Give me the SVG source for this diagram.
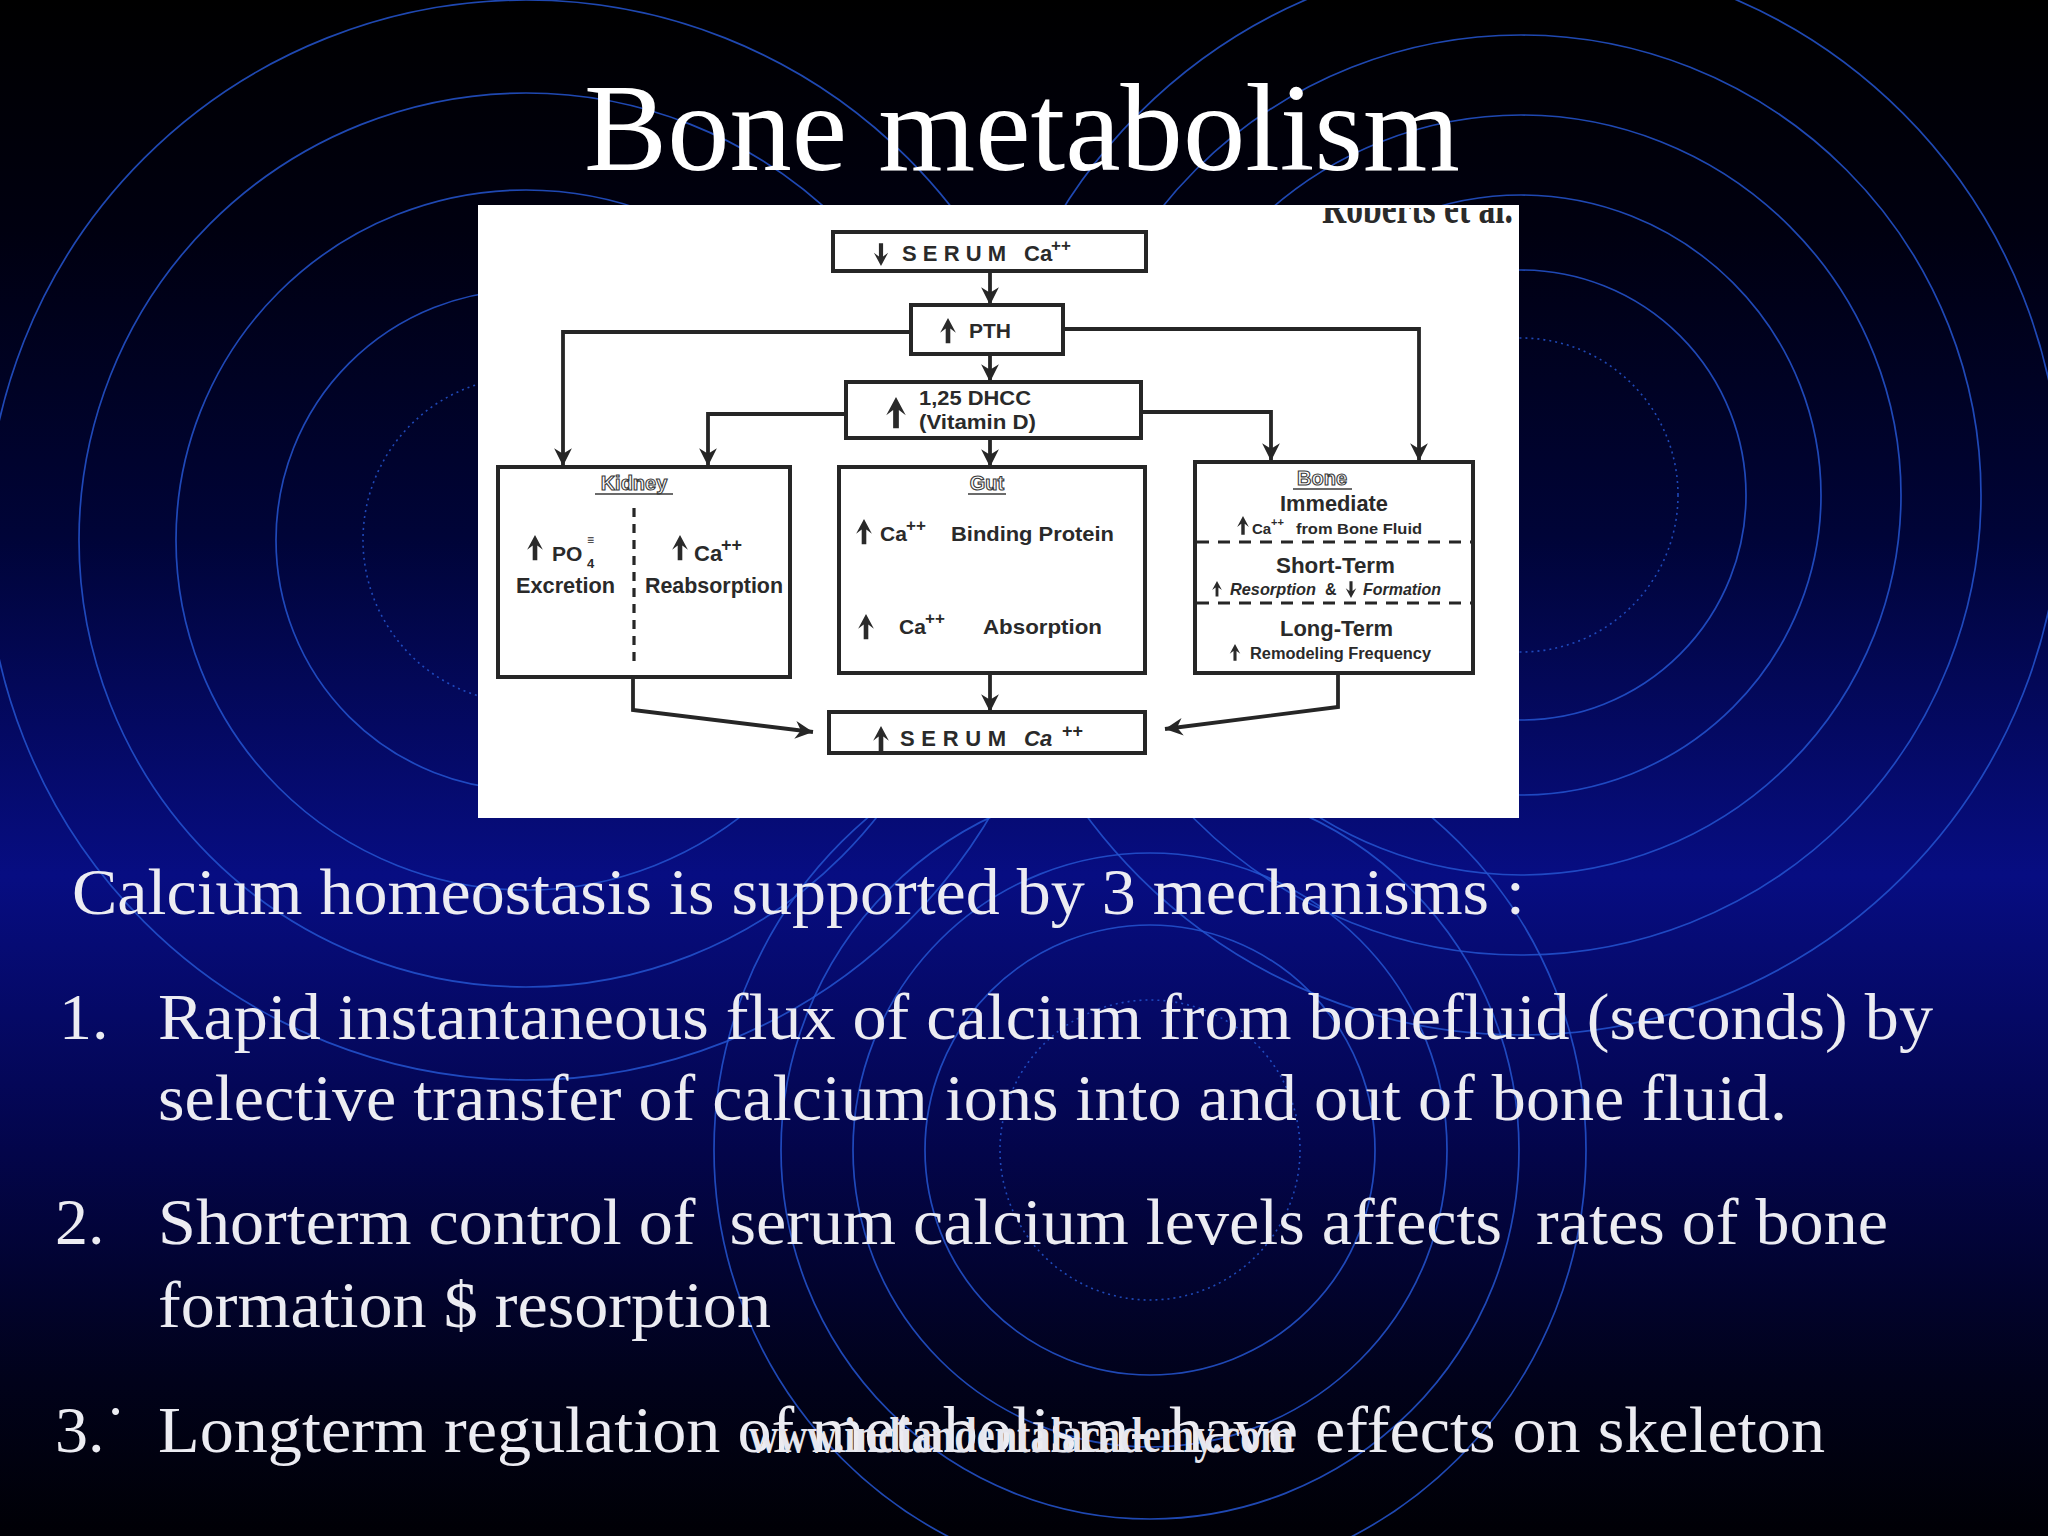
<svg xmlns="http://www.w3.org/2000/svg" width="2048" height="1536" viewBox="0 0 2048 1536">
<defs>
<linearGradient id="bg" x1="0" y1="0" x2="0" y2="1">
<stop offset="0" stop-color="#000000"/>
<stop offset="0.15" stop-color="#000010"/>
<stop offset="0.35" stop-color="#000438"/>
<stop offset="0.57" stop-color="#070d82"/>
<stop offset="0.75" stop-color="#03054a"/>
<stop offset="0.9" stop-color="#01021a"/>
<stop offset="1" stop-color="#000005"/>
</linearGradient>
<marker id="ah" markerUnits="userSpaceOnUse" markerWidth="20" markerHeight="20" viewBox="0 0 18 18" refX="17" refY="9" orient="auto">
<path d="M1,1 L17,9 L1,17 L6,9 Z" fill="#262626"/>
</marker>
<path id="up" d="M0,0 L-7.5,14 L-2.2,10 L-2.2,24 L2.2,24 L2.2,10 L7.5,14 Z"/>
<clipPath id="clipBox"><rect x="478" y="208" width="1041" height="610"/></clipPath>
<style>
.ring{fill:none;stroke:#2555d0;stroke-width:1.7;opacity:.85}
.dot{fill:none;stroke:#2555d0;stroke-width:1.6;stroke-dasharray:2 4;opacity:.85}
.box{fill:#fff;stroke:#262626;stroke-width:4}
.conn{fill:none;stroke:#262626;stroke-width:3.8;marker-end:url(#ah)}
.dash{fill:none;stroke:#262626;stroke-width:3.2;stroke-dasharray:12 9}
.t{font-family:"Liberation Sans",Arial,sans-serif;font-weight:bold;fill:#2a2a2a}
.lab{font-family:"Liberation Sans",Arial,sans-serif;font-weight:bold;fill:#fff;stroke:#3a3a3a;stroke-width:1.1;font-size:20px}
.ul{stroke:#3a3a3a;stroke-width:1.6}
.sym{fill:#2a2a2a}
.body{font-family:"Liberation Serif","Times New Roman",serif;fill:#ececf2;font-size:66px;white-space:pre}
.title{font-family:"Liberation Serif","Times New Roman",serif;fill:#ffffff;font-size:124px}
</style>
</defs>

<rect x="0" y="0" width="2048" height="1536" fill="url(#bg)"/>

<g id="rings">
<circle class="dot" cx="526" cy="540" r="163"/>
<circle class="ring" cx="526" cy="540" r="250"/>
<circle class="ring" cx="526" cy="540" r="350"/>
<circle class="ring" cx="526" cy="540" r="447"/>
<circle class="ring" cx="526" cy="540" r="540"/>
<circle class="dot" cx="1521" cy="495" r="157"/>
<circle class="ring" cx="1521" cy="495" r="225"/>
<circle class="ring" cx="1521" cy="495" r="300"/>
<circle class="ring" cx="1521" cy="495" r="380"/>
<circle class="ring" cx="1521" cy="495" r="460"/>
<circle class="ring" cx="1521" cy="495" r="540"/>
<circle class="dot" cx="1150" cy="1150" r="150"/>
<circle class="ring" cx="1150" cy="1150" r="225"/>
<circle class="ring" cx="1150" cy="1150" r="297"/>
<circle class="ring" cx="1150" cy="1150" r="369"/>
<circle class="ring" cx="1150" cy="1150" r="436"/>
</g>

<text class="title" x="584" y="170" textLength="876" lengthAdjust="spacingAndGlyphs">Bone metabolism</text>

<g id="figure">
<rect x="478" y="205" width="1041" height="613" fill="#ffffff"/>
<text clip-path="url(#clipBox)" x="1322" y="223" font-family="Liberation Serif, serif" font-weight="bold" font-size="46" fill="#2a2a2a" textLength="191" lengthAdjust="spacingAndGlyphs">Roberts et al.</text>
</g>

<g id="connectors">
<path class="conn" d="M990,271 L990,305"/>
<path class="conn" d="M990,354 L990,382"/>
<path class="conn" d="M990,438 L990,467"/>
<path class="conn" d="M911,332 L563,332 L563,466"/>
<path class="conn" d="M1063,329 L1419,329 L1419,461"/>
<path class="conn" d="M846,414 L708,414 L708,466"/>
<path class="conn" d="M1141,412 L1271,412 L1271,461"/>
<path class="conn" d="M990,673 L990,712"/>
<path class="conn" d="M633,677 L633,710 L813,732"/>
<path class="conn" d="M1338,673 L1338,707 L1165,729"/>
<path class="conn" d="M987,550 L987,612"/>
</g>

<g id="serum-low">
<rect class="box" x="833" y="232" width="313" height="39"/>
<use class="sym" href="#up" transform="translate(881,266) rotate(180) scale(0.95)"/>
<text class="t" x="902" y="261" font-size="22" textLength="104" lengthAdjust="spacing">SERUM</text>
<text class="t" x="1024" y="261" font-size="22">Ca</text>
<text class="t" x="1051" y="251" font-size="17">++</text>
</g>

<g id="pth">
<rect class="box" x="911" y="305" width="152" height="49"/>
<use class="sym" href="#up" transform="translate(948,318) scale(1.05)"/>
<text class="t" x="969" y="338" font-size="21" textLength="42" lengthAdjust="spacingAndGlyphs">PTH</text>
</g>

<g id="dhcc">
<rect class="box" x="846" y="382" width="295" height="56"/>
<use class="sym" href="#up" transform="translate(896,397) scale(1.3)"/>
<text class="t" x="919" y="405" font-size="21" textLength="112" lengthAdjust="spacingAndGlyphs">1,25 DHCC</text>
<text class="t" x="919" y="429" font-size="21" textLength="117" lengthAdjust="spacingAndGlyphs">(Vitamin D)</text>
</g>

<g id="kidney">
<rect class="box" x="498" y="467" width="292" height="210"/>
<text class="lab" x="634" y="490" text-anchor="middle">Kidney</text>
<line class="ul" x1="595" y1="494" x2="673" y2="494"/>
<line class="dash" x1="634" y1="508" x2="634" y2="662" style="stroke-dasharray:9 7"/>
<use class="sym" href="#up" transform="translate(535,535) scale(1.05)"/>
<text class="t" x="552" y="561" font-size="21">PO</text>
<text class="t" x="587" y="568" font-size="13">4</text>
<text class="t" x="587" y="544" font-size="12">≡</text>
<use class="sym" href="#up" transform="translate(680,535) scale(1.05)"/>
<text class="t" x="694" y="561" font-size="22">Ca</text>
<text class="t" x="721" y="551" font-size="18">++</text>
<text class="t" x="516" y="593" font-size="22" textLength="99" lengthAdjust="spacingAndGlyphs">Excretion</text>
<text class="t" x="645" y="593" font-size="22" textLength="138" lengthAdjust="spacingAndGlyphs">Reabsorption</text>
</g>

<g id="gut">
<rect class="box" x="839" y="467" width="306" height="206"/>
<text class="lab" x="987" y="490" text-anchor="middle">Gut</text>
<line class="ul" x1="968" y1="494" x2="1006" y2="494"/>
<use class="sym" href="#up" transform="translate(864,519) scale(1.05)"/>
<text class="t" x="880" y="541" font-size="21">Ca</text>
<text class="t" x="906" y="531" font-size="17">++</text>
<text class="t" x="951" y="541" font-size="21" textLength="163" lengthAdjust="spacingAndGlyphs">Binding Protein</text>
<use class="sym" href="#up" transform="translate(866,614) scale(1.05)"/>
<text class="t" x="899" y="634" font-size="21">Ca</text>
<text class="t" x="925" y="624" font-size="17">++</text>
<text class="t" x="983" y="634" font-size="21" textLength="119" lengthAdjust="spacingAndGlyphs">Absorption</text>
</g>

<g id="bone">
<rect class="box" x="1195" y="462" width="278" height="211"/>
<text class="lab" x="1322" y="485" text-anchor="middle">Bone</text>
<line class="ul" x1="1293" y1="489" x2="1352" y2="489"/>
<text class="t" x="1280" y="511" font-size="22" textLength="108" lengthAdjust="spacingAndGlyphs">Immediate</text>
<use class="sym" href="#up" transform="translate(1243,516) scale(0.78)"/>
<text class="t" x="1252" y="534" font-size="15">Ca</text>
<text class="t" x="1271" y="526" font-size="11">++</text>
<text class="t" x="1296" y="534" font-size="15" textLength="126" lengthAdjust="spacingAndGlyphs">from Bone Fluid</text>
<line class="dash" x1="1197" y1="542" x2="1471" y2="542"/>
<text class="t" x="1276" y="573" font-size="22" textLength="119" lengthAdjust="spacingAndGlyphs">Short-Term</text>
<use class="sym" href="#up" transform="translate(1217,581) scale(0.65)"/>
<text class="t" x="1230" y="595" font-size="17" font-style="italic" textLength="86" lengthAdjust="spacingAndGlyphs">Resorption</text>
<text class="t" x="1325" y="595" font-size="16">&amp;</text>
<use class="sym" href="#up" transform="translate(1351,598) rotate(180) scale(0.7)"/>
<text class="t" x="1363" y="595" font-size="17" font-style="italic" textLength="78" lengthAdjust="spacingAndGlyphs">Formation</text>
<line class="dash" x1="1197" y1="603" x2="1471" y2="603"/>
<text class="t" x="1280" y="636" font-size="22" textLength="113" lengthAdjust="spacingAndGlyphs">Long-Term</text>
<use class="sym" href="#up" transform="translate(1235,644) scale(0.7)"/>
<text class="t" x="1250" y="659" font-size="16" textLength="181" lengthAdjust="spacingAndGlyphs">Remodeling Frequency</text>
</g>

<g id="serum-high">
<rect class="box" x="829" y="712" width="316" height="41"/>
<use class="sym" href="#up" transform="translate(881,726) scale(1.05)"/>
<text class="t" x="900" y="746" font-size="22" textLength="106" lengthAdjust="spacing">SERUM</text>
<text class="t" x="1024" y="746" font-size="22" font-style="italic">Ca</text>
<text class="t" x="1062" y="737" font-size="18">++</text>
</g>

<g id="text">
<text class="body" x="72" y="914" textLength="1453" lengthAdjust="spacingAndGlyphs">Calcium homeostasis is supported by 3 mechanisms :</text>
<text class="body" x="59" y="1039">1.</text>
<text class="body" x="158" y="1039" textLength="1775" lengthAdjust="spacingAndGlyphs">Rapid instantaneous flux of calcium from bonefluid (seconds) by</text>
<text class="body" x="158" y="1120" textLength="1629" lengthAdjust="spacingAndGlyphs">selective transfer of calcium ions into and out of bone fluid.</text>
<text class="body" x="55" y="1244">2.</text>
<text class="body" x="158" y="1244" textLength="1730" lengthAdjust="spacingAndGlyphs">Shorterm control of  serum calcium levels affects  rates of bone</text>
<text class="body" x="158" y="1327" textLength="613" lengthAdjust="spacingAndGlyphs">formation $ resorption</text>
<text class="body" x="55" y="1452">3.˙</text>
<text class="body" x="158" y="1452" textLength="1667" lengthAdjust="spacingAndGlyphs">Longterm regulation of metabolism- have effects on skeleton</text>
<text x="749" y="1452" font-family="Liberation Serif, serif" font-weight="bold" font-size="50" fill="#e6e6ee" textLength="545" lengthAdjust="spacingAndGlyphs">www.indiandentalacademy.com</text>
</g>
</svg>
